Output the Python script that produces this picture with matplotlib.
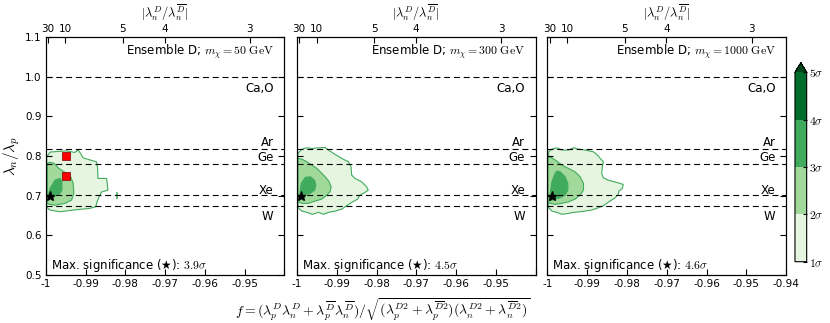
import matplotlib
matplotlib.use('Agg')
import matplotlib.pyplot as plt
import matplotlib as mpl
import numpy as np
from matplotlib.colors import ListedColormap, BoundaryNorm

plt.rcParams['mathtext.fontset'] = 'cm'
plt.rcParams['axes.unicode_minus'] = False
plt.rcParams['font.family'] = ['DejaVu Sans']

# ---------------- data ----------------
masses = [50, 300, 1000]
max_significance = [3.9, 4.5, 4.6]

xticks = [-1.0, -0.99, -0.98, -0.97, -0.96, -0.95, -0.94]
xtick_labels = ['-1', '-0.99', '-0.98', '-0.97', '-0.96', '-0.95', '-0.94']
yticks = [0.5, 0.6, 0.7, 0.8, 0.9, 1.0, 1.1]
top_ratio_ticks = [30, 10, 5, 4, 3]

target_names = ['Ca,O', 'Ar', 'Ge', 'Xe', 'W']
target_ratios = [1.0, 0.818, 0.780, 0.701, 0.673]
target_label_y = [0.971, 0.833, 0.7965, 0.714, 0.6486]

sigma_levels = [1, 2, 3, 4, 5]
level_colors = ['#e5f5e0', '#a1d99b', '#41ab5d', '#006d2c', '#00441b']

# panel 1 (m = 50 GeV) significance regions
p1_s1_x = [-0.99975, -0.99975, -0.9989, -0.99475, -0.99268, -0.99185, -0.99125, -0.9906,
           -0.98935, -0.98725, -0.98700, -0.98690, -0.98690, -0.98470, -0.98435, -0.98600,
           -0.98643, -0.98710, -0.98743, -0.98893, -0.99310, -0.99643, -0.99893]
p1_s1_y = [0.6705, 0.798, 0.810, 0.813, 0.809, 0.815, 0.8065, 0.7955,
           0.7914, 0.7855, 0.773, 0.752, 0.7435, 0.7435, 0.714, 0.709,
           0.700, 0.6846, 0.672, 0.668, 0.6637, 0.6595, 0.6637]
p1_s2_x = [-0.9996, -0.9996, -0.9991, -0.99793, -0.99685, -0.99518, -0.99375, -0.9931,
           -0.99293, -0.9935, -0.99518, -0.99768, -0.9991]
p1_s2_y = [0.6805, 0.781, 0.784, 0.782, 0.770, 0.7587, 0.7477, 0.731,
           0.7058, 0.689, 0.6805, 0.676, 0.678]
p1_s3_x = [-0.9996, -0.99893, -0.99768, -0.99643, -0.99593, -0.99593, -0.9966, -0.9981, -0.99935]
p1_s3_y = [0.693, 0.718, 0.739, 0.7435, 0.735, 0.714, 0.703, 0.6965, 0.6907]
p1_island_x = [-0.9821, -0.9821]
p1_island_y = [0.693, 0.707]
p1_bench_x = [-0.995, -0.995]
p1_bench_y = [0.80, 0.75]

# panel 2 (m = 300 GeV)
p2_s1_x = [-0.99975, -0.99875, -0.9975, -0.99625, -0.99458, -0.99292, -0.99208, -0.99042,
           -0.98875, -0.98708, -0.98642, -0.98625, -0.98542, -0.98375, -0.9825, -0.98208,
           -0.98292, -0.98417, -0.98475, -0.98625, -0.9875, -0.98875, -0.99042, -0.99208,
           -0.99333, -0.99458, -0.99608, -0.9975, -0.99875, -0.99975]
p2_s1_y = [0.8065, 0.8174, 0.8207, 0.819, 0.8207, 0.8216, 0.815, 0.804,
           0.794, 0.7855, 0.773, 0.752, 0.7435, 0.735, 0.7225, 0.714,
           0.708, 0.7015, 0.6914, 0.683, 0.6746, 0.666, 0.661, 0.658,
           0.653, 0.658, 0.653, 0.658, 0.661, 0.6695]
p2_s2_x = [-0.99975, -0.99875, -0.9975, -0.99625, -0.995, -0.99375, -0.99292, -0.99192,
           -0.99142, -0.99167, -0.9925, -0.99375, -0.99542, -0.99708, -0.99875, -0.99975]
p2_s2_y = [0.794, 0.792, 0.7855, 0.777, 0.7687, 0.756, 0.7477, 0.735,
           0.7225, 0.710, 0.7015, 0.6914, 0.6864, 0.6806, 0.6806, 0.6846]
p2_s3_x = [-0.99942, -0.99892, -0.99792, -0.99667, -0.99558, -0.99525, -0.99558, -0.99667,
           -0.99792, -0.99917]
p2_s3_y = [0.693, 0.731, 0.746, 0.7477, 0.739, 0.7267, 0.714, 0.7058, 0.7015, 0.6947]

# panel 3 (m = 1000 GeV)
p3_s1_x = [-0.9997, -0.99888, -0.99763, -0.99638, -0.9947, -0.99345, -0.9922, -0.99055,
           -0.98845, -0.98762, -0.98655, -0.98595, -0.9862, -0.98637, -0.98595, -0.9847,
           -0.98262, -0.98095, -0.9812, -0.98205, -0.9822, -0.9832, -0.9843, -0.98595,
           -0.9872, -0.98888, -0.9918, -0.99345, -0.9947, -0.99638, -0.99763, -0.99888,
           -0.9997]
p3_s1_y = [0.8106, 0.8174, 0.8207, 0.815, 0.815, 0.8207, 0.8174, 0.815,
           0.8106, 0.804, 0.792, 0.7855, 0.773, 0.756, 0.745, 0.739,
           0.7335, 0.7284, 0.718, 0.7116, 0.703, 0.693, 0.6864, 0.6746,
           0.6695, 0.6637, 0.6595, 0.658, 0.6554, 0.653, 0.658, 0.661,
           0.6695]
p3_s2_x = [-0.99988, -0.99888, -0.99763, -0.99638, -0.9947, -0.99305, -0.9918, -0.99095,
           -0.99095, -0.9918, -0.99305, -0.9947, -0.99638, -0.99805, -0.9993, -0.99988]
p3_s2_y = [0.798, 0.7955, 0.787, 0.777, 0.7687, 0.760, 0.7477, 0.731,
           0.714, 0.7015, 0.6914, 0.6846, 0.6806, 0.678, 0.6806, 0.6864]
p3_s3_x = [-0.99955, -0.99888, -0.9982, -0.99763, -0.9968, -0.99555, -0.99488, -0.99488,
           -0.99555, -0.9968, -0.99805, -0.99905]
p3_s3_y = [0.689, 0.735, 0.7536, 0.762, 0.760, 0.7477, 0.731, 0.714,
           0.7015, 0.6947, 0.6914, 0.688]

star_x = [-0.9989, -0.999, -0.99888]
star_y = [0.700, 0.700, 0.700]

panels_s1 = [(p1_s1_x, p1_s1_y), (p2_s1_x, p2_s1_y), (p3_s1_x, p3_s1_y)]
panels_s2 = [(p1_s2_x, p1_s2_y), (p2_s2_x, p2_s2_y), (p3_s2_x, p3_s2_y)]
panels_s3 = [(p1_s3_x, p1_s3_y), (p2_s3_x, p2_s3_y), (p3_s3_x, p3_s3_y)]

# ---------------- figure ----------------
fig = plt.figure(figsize=(8.3, 3.23), dpi=100)
lefts = [0.0551, 0.3578, 0.6596]
width = 0.2876
bottom, height = 0.1486, 0.7368
edge_col = '#41ab5d'

def top_pos(r):
    return -r / np.sqrt(r ** 2 + 1)

for i in range(3):
    ax = fig.add_axes([lefts[i], bottom, width, height])
    ax.set_xlim(-1.0, -0.94)
    ax.set_ylim(0.5, 1.1)

    # filled significance regions
    for (xs, ys), col in zip([panels_s1[i], panels_s2[i], panels_s3[i]], level_colors[:3]):
        ax.fill(xs, ys, facecolor=col, edgecolor=edge_col, linewidth=0.8, zorder=1)
    if i == 0:
        ax.plot(p1_island_x, p1_island_y, color=edge_col, lw=1.2, zorder=2)
        ax.plot(p1_bench_x, p1_bench_y, 's', color='red', mec='#7a0000', mew=0.5,
                markersize=5.5, zorder=4, clip_on=False)

    # target lines
    for name, r, ly in zip(target_names, target_ratios, target_label_y):
        ax.axhline(r, color='black', lw=0.8, ls=(0, (5.4, 3.4)), zorder=2)
        ax.text(-0.9427, ly, name, ha='right', va='center', fontsize=8.5, zorder=5)

    ax.plot([star_x[i]], [star_y[i]], '*', color='black', markersize=6.5, zorder=6, clip_on=False)

    ax.text(-0.9427, 1.064, r'Ensemble D; $m_\chi = %d\ \mathrm{GeV}$' % masses[i],
            ha='right', va='center', fontsize=8.5)
    ax.text(-0.99875, 0.5235, 'Max. significance (\u2605): $%.1f\\sigma$' % max_significance[i],
            ha='left', va='center', fontsize=8.5)

    ax.set_xticks(xticks)
    labs = list(xtick_labels) if i == 2 else list(xtick_labels[:-1]) + ['']
    ax.set_xticklabels(labs)
    ax.set_yticks(yticks)
    if i == 0:
        ax.set_yticklabels(['%.1f' % v for v in yticks])
        ax.set_ylabel(r'$\lambda_n/\lambda_p$', fontsize=11, labelpad=2)
    else:
        ax.set_yticklabels([])
    ax.tick_params(direction='in', length=4, labelsize=7.5, top=False, right=True, pad=3)

    ax2 = ax.twiny()
    ax2.set_xlim(ax.get_xlim())
    ax2.set_xticks([top_pos(r) for r in top_ratio_ticks])
    ax2.set_xticklabels([str(r) for r in top_ratio_ticks])
    ax2.tick_params(direction='in', length=4, labelsize=7.5, pad=2)
    ax2.set_xlabel(r'$|\lambda_n^D/\lambda_n^{\overline{D}}|$', fontsize=9, labelpad=4.5)

fig.text(0.4614, 0.040,
         r'$f = (\lambda_p^D\lambda_n^D + \lambda_p^{\overline{D}}\lambda_n^{\overline{D}})'
         r'/\sqrt{(\lambda_p^{D2} + \lambda_p^{\overline{D}2})(\lambda_n^{D2} + \lambda_n^{\overline{D}2})}$',
         ha='center', va='center', fontsize=10)

# colorbar
cax = fig.add_axes([0.9578, 0.1898, 0.0141, 0.6161])
cmap = ListedColormap(level_colors[:4])
cmap.set_over(level_colors[4])
norm = BoundaryNorm(sigma_levels, cmap.N)
cb = fig.colorbar(mpl.cm.ScalarMappable(norm=norm, cmap=cmap), cax=cax,
                  extend='max', ticks=sigma_levels)
cb.ax.set_yticklabels([r'$%d\sigma$' % s for s in sigma_levels])
cb.ax.tick_params(direction='in', length=3, labelsize=8.5, pad=2)
cb.outline.set_linewidth(0.8)

fig.savefig('out.png', dpi=100)
